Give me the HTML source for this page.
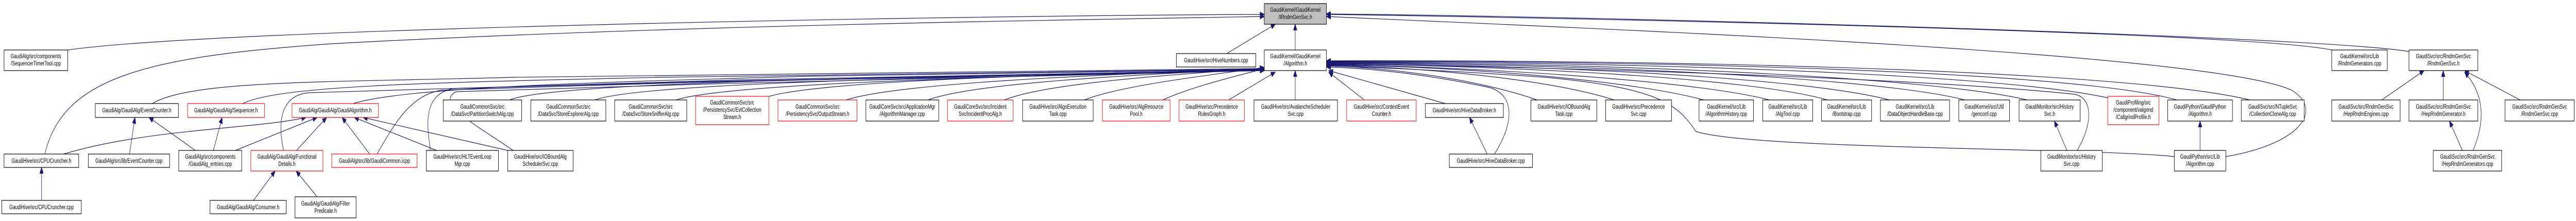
<!DOCTYPE html>
<html><head><meta charset="utf-8"><meta name="viewport" content="width=7003,height=429,initial-scale=1"><style>
html,body{margin:0;padding:0;background:#fff;width:100%;height:100%;overflow:hidden;}
svg{display:block;position:fixed;left:0;top:0;width:100vw;height:100vh;}
text{font-family:"Liberation Sans",Arial,sans-serif;font-size:12px;fill:#000;}
.e{fill:none;stroke:#191970;stroke-width:1.2;}
.k{fill:#fff;stroke:#000;stroke-width:1.2;}
.r{fill:#fff;stroke:#ff0000;stroke-width:1.2;}
.g{fill:#bfbfbf;stroke:#000;stroke-width:1.2;}
</style></head><body>
<svg viewBox="0 0 7003 429" preserveAspectRatio="none" xmlns="http://www.w3.org/2000/svg">
<defs><marker id="a" markerUnits="userSpaceOnUse" markerWidth="13" markerHeight="10" refX="12" refY="5" orient="auto"><path d="M0,0 L12,5 L0,10 z" fill="#191970" stroke="#191970"/></marker></defs>
<g class="e" marker-end="url(#a)">
<path d="M184,97 C600,55 2600,30 3437,28"/>
<path d="M122,299 C170,150 400,110 900,85 C1800,50 2800,40 3437,32"/>
<path d="M3335,104 L3467,47"/>
<path d="M3521,97 L3521,47"/>
<path d="M6339,97 C6100,62 4300,35 3606,28"/>
<path d="M6549,100 C6300,70 4400,32 3606,27"/>
<path d="M6051,304 C6250,280 6320,215 6230,175 C6000,100 4300,55 3606,32"/>
<path d="M414,201 C520,155 900,160 1400,150 C2400,140 3100,135 3437,133"/>
<path d="M660,201 C760,165 1200,160 1800,150 C2600,140 3200,135 3437,134"/>
<path d="M960,201 C1100,170 1600,160 2200,148 C2900,138 3300,136 3437,135"/>
<path d="M771,292 C755,240 760,185 840,180 C1600,160 2800,140 3437,136"/>
<path d="M1025,299 C1080,230 1120,185 1200,175 C2000,155 3000,140 3437,136"/>
<path d="M1170,292 C1160,240 1150,185 1230,172 C2000,155 3000,140 3437,137"/>
<path d="M1395,292 C1300,245 1180,200 1240,178 C2000,160 3000,142 3437,137"/>
<path d="M1386,194 C1500,160 2400,150 3437,136"/>
<path d="M1617,194 C1750,160 2600,150 3437,135"/>
<path d="M1838,194 C1980,160 2800,148 3437,135"/>
<path d="M2091,187 C2250,155 2900,145 3437,134"/>
<path d="M2300,194 C2450,160 3000,145 3437,133"/>
<path d="M2523,194 C2650,160 3100,145 3437,133"/>
<path d="M2730,194 C2850,160 3200,145 3437,132"/>
<path d="M2948,194 C3050,165 3300,145 3437,131"/>
<path d="M3161,194 C3250,165 3380,145 3437,133"/>
<path d="M3340,194 L3467,140"/>
<path d="M3521,194 L3521,137"/>
<path d="M3709,194 L3612,140"/>
<path d="M3929,201 L3612,137"/>
<path d="M4063,299 C4115,240 4120,185 4050,170 C3850,140 3700,132 3606,130"/>
<path d="M4179,194 C4000,150 3750,130 3606,128"/>
<path d="M4388,194 C4200,150 3800,128 3606,127"/>
<path d="M4632,194 C4400,150 3900,128 3606,126"/>
<path d="M4810,194 C4600,155 4000,130 3606,125"/>
<path d="M4968,194 C4750,150 4100,128 3606,124"/>
<path d="M5137,194 C4900,150 4200,126 3606,123"/>
<path d="M5342,194 C5100,150 4300,124 3606,122"/>
<path d="M5511,194 C5250,150 4400,122 3606,121"/>
<path d="M5730,190 C5450,145 4500,120 3606,120"/>
<path d="M5918,194 C5650,140 4600,118 3606,119"/>
<path d="M6117,194 C5800,140 4700,116 3606,118"/>
<path d="M5647,292 C5690,240 5690,190 5640,183 C5200,150 4200,130 3606,124"/>
<path d="M5911,304 C5700,287 4750,290 4610,255 C4560,200 4500,170 4200,150 C3900,135 3700,130 3606,128"/>
<path d="M173,299 C400,250 700,250 832,228"/>
<path d="M640,292 L862,228"/>
<path d="M806,292 L888,228"/>
<path d="M1005,299 L930,228"/>
<path d="M1187,292 L963,228"/>
<path d="M1380,292 L987,228"/>
<path d="M352,299 L367,228"/>
<path d="M531,292 L405,228"/>
<path d="M580,292 L604,228"/>
<path d="M689,389 L748,332"/>
<path d="M862,382 L805,332"/>
<path d="M113,389 L113,325"/>
<path d="M4043,299 L3995,228"/>
<path d="M5619,292 L5585,235"/>
<path d="M5981,292 L5981,235"/>
<path d="M6475,194 L6590,137"/>
<path d="M6642,194 L6642,137"/>
<path d="M6851,194 L6700,137"/>
<path d="M6723,292 C6760,230 6750,180 6700,140"/>
<path d="M6694,292 L6659,235"/>
</g>
<g text-anchor="middle">
<rect class="g" x="3437" y="7" width="169" height="40"/><text x="3521.5" y="23">GaudiKernel/GaudiKernel</text><text x="3521.5" y="37">/IRndmGenSvc.h</text>
<rect class="k" x="11" y="97" width="173" height="40"/><text x="97.5" y="113">GaudiAlg/src/components</text><text x="97.5" y="127">/SequencerTimerTool.cpp</text>
<rect class="k" x="3198" y="104" width="216" height="26"/><text x="3306" y="121">GaudiHive/src/HiveNumbers.cpp</text>
<rect class="k" x="3437" y="97" width="169" height="40"/><text x="3521.5" y="113">GaudiKernel/GaudiKernel</text><text x="3521.5" y="127">/Algorithm.h</text>
<rect class="k" x="6339" y="97" width="151" height="40"/><text x="6414.5" y="113">GaudiKernel/src/Lib</text><text x="6414.5" y="127">/RndmGenerators.cpp</text>
<rect class="k" x="6549" y="97" width="187" height="40"/><text x="6642.5" y="113">GaudiSvc/src/RndmGenSvc</text><text x="6642.5" y="127">/RndmGenSvc.h</text>

<rect class="k" x="259" y="201" width="226" height="27"/><text x="372" y="218">GaudiAlg/GaudiAlg/EventCounter.h</text>
<rect class="r" x="510" y="201" width="209" height="27"/><text x="614.5" y="218">GaudiAlg/GaudiAlg/Sequencer.h</text>
<rect class="r" x="794" y="201" width="235" height="27"/><text x="911.5" y="218">GaudiAlg/GaudiAlg/GaudiAlgorithm.h</text>
<rect class="k" x="1205" y="194" width="213" height="41"/><text x="1311.5" y="211">GaudiCommonSvc/src</text><text x="1311.5" y="225">/DataSvc/PartitionSwitchAlg.cpp</text>
<rect class="k" x="1443" y="194" width="204" height="41"/><text x="1545" y="211">GaudiCommonSvc/src</text><text x="1545" y="225">/DataSvc/StoreExplorerAlg.cpp</text>
<rect class="k" x="1671" y="194" width="196" height="41"/><text x="1769" y="211">GaudiCommonSvc/src</text><text x="1769" y="225">/DataSvc/StoreSnifferAlg.cpp</text>
<rect class="r" x="1891" y="187" width="199" height="55"/><text x="1990.5" y="203">GaudiCommonSvc/src</text><text x="1990.5" y="217">/PersistencySvc/EvtCollection</text><text x="1990.5" y="231">Stream.h</text>
<rect class="r" x="2115" y="194" width="215" height="41"/><text x="2222.5" y="211">GaudiCommonSvc/src</text><text x="2222.5" y="225">/PersistencySvc/OutputStream.h</text>
<rect class="k" x="2354" y="194" width="198" height="41"/><text x="2453" y="211">GaudiCoreSvc/src/ApplicationMgr</text><text x="2453" y="225">/AlgorithmManager.cpp</text>
<rect class="r" x="2576" y="194" width="178" height="41"/><text x="2665" y="211">GaudiCoreSvc/src/Incident</text><text x="2665" y="225">Svc/IncidentProcAlg.h</text>
<rect class="k" x="2780" y="194" width="192" height="41"/><text x="2876" y="211">GaudiHive/src/AlgoExecution</text><text x="2876" y="225">Task.cpp</text>
<rect class="r" x="2997" y="194" width="184" height="41"/><text x="3089" y="211">GaudiHive/src/AlgResource</text><text x="3089" y="225">Pool.h</text>
<rect class="r" x="3205" y="194" width="178" height="41"/><text x="3294" y="211">GaudiHive/src/Precedence</text><text x="3294" y="225">RulesGraph.h</text>
<rect class="k" x="3409" y="194" width="227" height="41"/><text x="3522.5" y="211">GaudiHive/src/AvalancheScheduler</text><text x="3522.5" y="225">Svc.cpp</text>
<rect class="r" x="3661" y="194" width="189" height="41"/><text x="3755.5" y="211">GaudiHive/src/ContextEvent</text><text x="3755.5" y="225">Counter.h</text>
<rect class="k" x="3875" y="201" width="212" height="27"/><text x="3981" y="218">GaudiHive/src/HiveDataBroker.h</text>
<rect class="k" x="4162" y="194" width="179" height="41"/><text x="4251.5" y="211">GaudiHive/src/IOBoundAlg</text><text x="4251.5" y="225">Task.cpp</text>
<rect class="k" x="4365" y="194" width="179" height="41"/><text x="4454.5" y="211">GaudiHive/src/Precedence</text><text x="4454.5" y="225">Svc.cpp</text>
<rect class="k" x="4619" y="194" width="148" height="41"/><text x="4693" y="211">GaudiKernel/src/Lib</text><text x="4693" y="225">/AlgorithmHistory.cpp</text>
<rect class="k" x="4792" y="194" width="136" height="41"/><text x="4860" y="211">GaudiKernel/src/Lib</text><text x="4860" y="225">/AlgTool.cpp</text>
<rect class="k" x="4952" y="194" width="136" height="41"/><text x="5020" y="211">GaudiKernel/src/Lib</text><text x="5020" y="225">/Bootstrap.cpp</text>
<rect class="k" x="5112" y="194" width="188" height="41"/><text x="5206" y="211">GaudiKernel/src/Lib</text><text x="5206" y="225">/DataObjectHandleBase.cpp</text>
<rect class="k" x="5325" y="194" width="138" height="41"/><text x="5394" y="211">GaudiKernel/src/Util</text><text x="5394" y="225">/genconf.cpp</text>
<rect class="k" x="5489" y="194" width="166" height="41"/><text x="5572" y="211">GaudiMonitor/src/History</text><text x="5572" y="225">Svc.h</text>
<rect class="r" x="5730" y="187" width="139" height="55"/><text x="5799.5" y="203">GaudiProfiling/src</text><text x="5799.5" y="217">/component/valgrind</text><text x="5799.5" y="231">/CallgrindProfile.h</text>
<rect class="k" x="5893" y="194" width="176" height="41"/><text x="5981" y="211">GaudiPython/GaudiPython</text><text x="5981" y="225">/Algorithm.h</text>
<rect class="k" x="6093" y="194" width="171" height="41"/><text x="6178.5" y="211">GaudiSvc/src/NTupleSvc</text><text x="6178.5" y="225">/CollectionCloneAlg.cpp</text>
<rect class="k" x="6339" y="194" width="186" height="41"/><text x="6432" y="211">GaudiSvc/src/RndmGenSvc</text><text x="6432" y="225">/HepRndmEngines.cpp</text>
<rect class="k" x="6549" y="194" width="187" height="41"/><text x="6642.5" y="211">GaudiSvc/src/RndmGenSvc</text><text x="6642.5" y="225">/HepRndmGenerator.h</text>
<rect class="k" x="6810" y="194" width="188" height="41"/><text x="6904" y="211">GaudiSvc/src/RndmGenSvc</text><text x="6904" y="225">/RndmGenSvc.cpp</text>

<rect class="k" x="11" y="299" width="203" height="26"/><text x="112.5" y="316">GaudiHive/src/CPUCruncher.h</text>
<rect class="k" x="240" y="299" width="221" height="26"/><text x="350.5" y="316">GaudiAlg/src/lib/EventCounter.cpp</text>
<rect class="k" x="486" y="292" width="171" height="40"/><text x="571.5" y="308">GaudiAlg/src/components</text><text x="571.5" y="322">/GaudiAlg_entries.cpp</text>
<rect class="r" x="682" y="292" width="196" height="40"/><text x="780" y="308">GaudiAlg/GaudiAlg/Functional</text><text x="780" y="322">Details.h</text>
<rect class="r" x="902" y="299" width="232" height="26"/><text x="1018" y="316">GaudiAlg/src/lib/GaudiCommon.icpp</text>
<rect class="k" x="1159" y="292" width="196" height="40"/><text x="1257" y="308">GaudiHive/src/HLTEventLoop</text><text x="1257" y="322">Mgr.cpp</text>
<rect class="k" x="1380" y="292" width="178" height="40"/><text x="1469" y="308">GaudiHive/src/IOBoundAlg</text><text x="1469" y="322">SchedulerSvc.cpp</text>
<rect class="k" x="3940" y="299" width="226" height="26"/><text x="4053" y="316">GaudiHive/src/HiveDataBroker.cpp</text>
<rect class="k" x="5548" y="292" width="167" height="40"/><text x="5631.5" y="308">GaudiMonitor/src/History</text><text x="5631.5" y="322">Svc.cpp</text>
<rect class="k" x="5911" y="292" width="140" height="40"/><text x="5981" y="308">GaudiPython/src/Lib</text><text x="5981" y="322">/Algorithm.cpp</text>
<rect class="k" x="6615" y="292" width="186" height="40"/><text x="6708" y="308">GaudiSvc/src/RndmGenSvc</text><text x="6708" y="322">/HepRndmGenerators.cpp</text>

<rect class="k" x="5" y="389" width="216" height="26"/><text x="113" y="406">GaudiHive/src/CPUCruncher.cpp</text>
<rect class="k" x="571" y="389" width="207" height="26"/><text x="674.5" y="406">GaudiAlg/GaudiAlg/Consumer.h</text>
<rect class="k" x="802" y="382" width="166" height="41"/><text x="885" y="399">GaudiAlg/GaudiAlg/Filter</text><text x="885" y="413">Predicate.h</text>
</g>
</svg>
</body></html>
